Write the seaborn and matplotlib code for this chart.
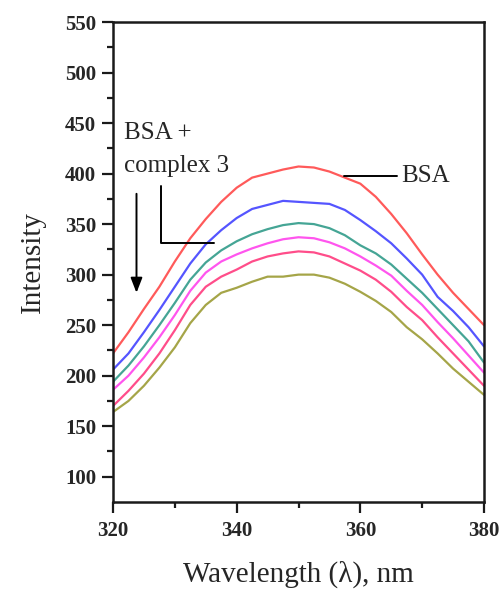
import numpy as np
import pandas as pd
import matplotlib
matplotlib.use("Agg")
import matplotlib.pyplot as plt
import seaborn as sns

wavelength = [320, 322.5, 325, 327.5, 330, 332.5, 335, 337.5, 340, 342.5, 345, 347.5,
              350, 352.5, 355, 357.5, 360, 362.5, 365, 367.5, 370, 372.5, 375, 377.5, 380]

bsa = [222, 243, 266, 288, 313, 336, 355, 372, 386, 396, 400, 404,
       407, 406, 402, 396, 390, 377, 360, 341, 320, 300, 282, 266, 250]
c1 = [206, 222, 243, 265, 288, 311, 330, 344, 356, 365, 369, 373,
      372, 371, 370, 364, 354, 343, 331, 316, 300, 278, 264, 248, 229]
c2 = [194, 210, 229, 250, 272, 295, 312, 324, 333, 340, 345, 349,
      351, 350, 346, 339, 329, 321, 310, 296, 282, 266, 250, 234, 213]
c3 = [186, 200, 218, 238, 260, 284, 302, 313, 320, 326, 331, 335,
      337, 336, 332, 326, 318, 309, 299, 284, 270, 253, 237, 220, 203]
c4 = [170, 185, 202, 222, 245, 270, 288, 298, 305, 313, 318, 321,
      323, 322, 318, 311, 304, 295, 283, 268, 255, 238, 222, 206, 190]
c5 = [164, 175, 190, 208, 228, 252, 270, 282, 287, 293, 298, 298,
      300, 300, 297, 291, 283, 274, 263, 248, 236, 222, 207, 194, 181]

series_names = ["BSA", "s1", "s2", "s3", "s4", "s5"]
series_vals = [bsa, c1, c2, c3, c4, c5]
colors = ["#ff5a5a", "#5555ff", "#45a595", "#ff55ee", "#ff4d8a", "#a5a548"]

rows = []
for name, vals in zip(series_names, series_vals):
    for w, v in zip(wavelength, vals):
        rows.append({"wl": w, "val": v, "series": name})
df = pd.DataFrame(rows)

sns.set_style("ticks")
plt.rcParams['font.family'] = ['Liberation Serif', 'DejaVu Serif']

fig = plt.figure(figsize=(4.99, 5.95), dpi=100)
ax = fig.add_axes([113/499, 1-502/595, (484-113)/499, (502-22)/595])

sns.lineplot(data=df, x="wl", y="val", hue="series", palette=colors,
             hue_order=series_names, ax=ax, legend=False, linewidth=1.6)

ax.set_xlim(320, 380)
ax.set_ylim(75, 550)
ax.set_xticks([320, 340, 360, 380])
ax.set_xticks([330, 350, 370], minor=True)
ax.set_yticks([100, 150, 200, 250, 300, 350, 400, 450, 500, 550])
ax.set_yticks(np.arange(125, 550, 50), minor=True)
for s in ax.spines.values():
    s.set_linewidth(1.8)
    s.set_color("#1a1a1a")
ax.tick_params(axis='both', which='major', direction='out', length=8, width=1.6,
               labelsize=15, pad=4, color="#1a1a1a")
ax.tick_params(axis='both', which='minor', direction='out', length=4, width=1.6, color="#1a1a1a")
for lab in ax.get_xticklabels() + ax.get_yticklabels():
    lab.set_fontweight('bold')
ax.tick_params(axis='x', pad=6)

ax.set_xlabel("Wavelength (λ), nm", fontsize=21, labelpad=14)
ax.set_ylabel("Intensity", fontsize=21, labelpad=14)

# annotations
ax.text(321.8, 434, "BSA +", fontsize=18, ha='left', va='baseline')
ax.text(321.8, 401.6, "complex 3", fontsize=18, ha='left', va='baseline')
ax.annotate("", xy=(323.8, 282), xytext=(323.8, 380),
            arrowprops=dict(arrowstyle='-|>,head_length=0.9,head_width=0.35',
                            color='black', lw=1.4, shrinkA=0, shrinkB=0))
ax.plot([327.7, 327.7, 336.3], [388, 331.4, 331.4], color='black', lw=1.4)
ax.plot([357.4, 366.0], [397.7, 397.7], color='black', lw=1.4)
ax.text(366.6, 397.7, "BSA", fontsize=18, ha='left', va='center')

fig.savefig("out.png", dpi=100)
